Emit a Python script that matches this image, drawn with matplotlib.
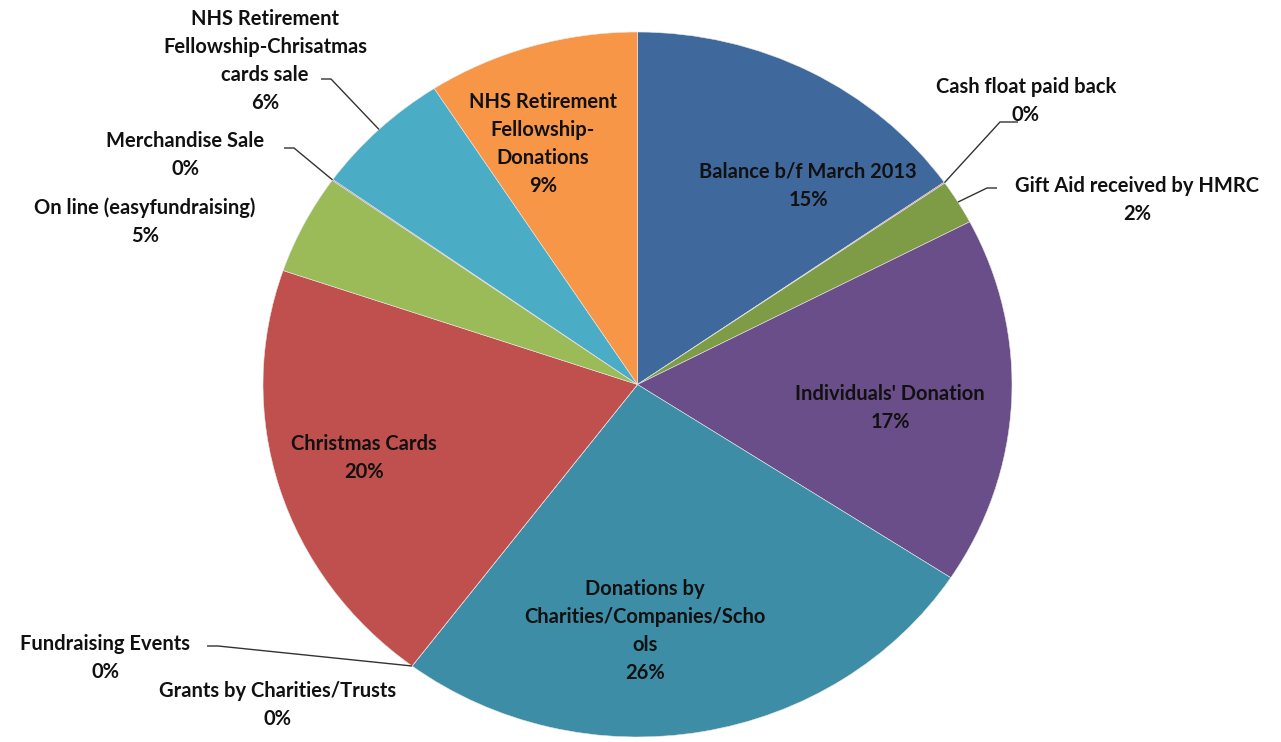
import matplotlib.pyplot as plt
import numpy as np

# slices, clockwise from 12 o'clock
labels = [
    "Balance b/f March 2013",
    "Cash float paid back",
    "Gift Aid received by HMRC",
    "Individuals' Donation",
    "Donations by\nCharities/Companies/Scho\nols",
    "Grants by Charities/Trusts",
    "Fundraising Events",
    "Christmas Cards",
    "On line (easyfundraising)",
    "Merchandise Sale",
    "NHS Retirement\nFellowship-Chrisatmas\ncards sale",
    "NHS Retirement\nFellowship-\nDonations",
]
values = [15.3, 0.05, 2.05, 16.9, 26.1, 0.0, 0.0, 20.0, 4.6, 0.05, 6.0, 9.15]
colors = ["#3F699D", "#BE4F4C", "#7E9C45", "#6A4E89", "#3D8DA6", "#F79646",
          "#4F81BD", "#C0504D", "#9BBB59", "#8064A2", "#4BACC6", "#F79646"]

W, H = 1281, 742
CX, CY, RX, RY = 637.5, 384.5, 374.5, 352.5   # pie centre / radii in pixels


def px(x, y):
    # pixel position -> data coords of the (slightly stretched) pie
    return (x - CX) / RX, -(y - CY) / RY


# label centres (pixels) and leader-line bend points
label_pos = [(808, 186), (1026, 101), (1137, 200), (890, 408), (645, 631),
             (278, 705), (105, 658), (364, 458), (145, 222), (185, 155),
             (265, 61), (543, 144)]
leaders = {
    1: [(1000, 122), (1018, 122)],
    2: [(987, 188), (997, 188)],
    6: [(218, 646), (207, 646)],
    9: [(294, 148), (284, 148)],
    10: [(331, 79), (321, 79)],
}

fig = plt.figure(figsize=(W / 100, H / 100), dpi=100)
ax = fig.add_axes([0, 0, 1, 1])
wedges, _ = ax.pie(values, colors=colors, startangle=90, counterclock=False,
                   wedgeprops=dict(edgecolor="#e8e8e8", linewidth=0.4))
ax.set_aspect("auto")
x0, y1 = px(0, 0)
x1, y0 = px(W, H)
ax.set_xlim(x0, x1)
ax.set_ylim(y0, y1)
ax.axis("off")

total = sum(values)
for i, (lab, v) in enumerate(zip(labels, values)):
    tx, ty = px(*label_pos[i])
    ax.text(tx, ty, f"{lab}\n{v / total * 100:.0f}%", ha="center", va="center",
            fontsize=14.5, fontweight="bold", family="Lato", color="#111111",
            linespacing=1.5)

for i, pts in leaders.items():
    w = wedges[i]
    ang = np.deg2rad((w.theta1 + w.theta2) / 2)
    xs = [np.cos(ang)]
    ys = [np.sin(ang)]
    for p in pts:
        a, b = px(*p)
        xs.append(a)
        ys.append(b)
    ax.plot(xs, ys, color="#333333", lw=1.0, solid_capstyle="butt")

fig.savefig("out.png", dpi=100, facecolor="white")
